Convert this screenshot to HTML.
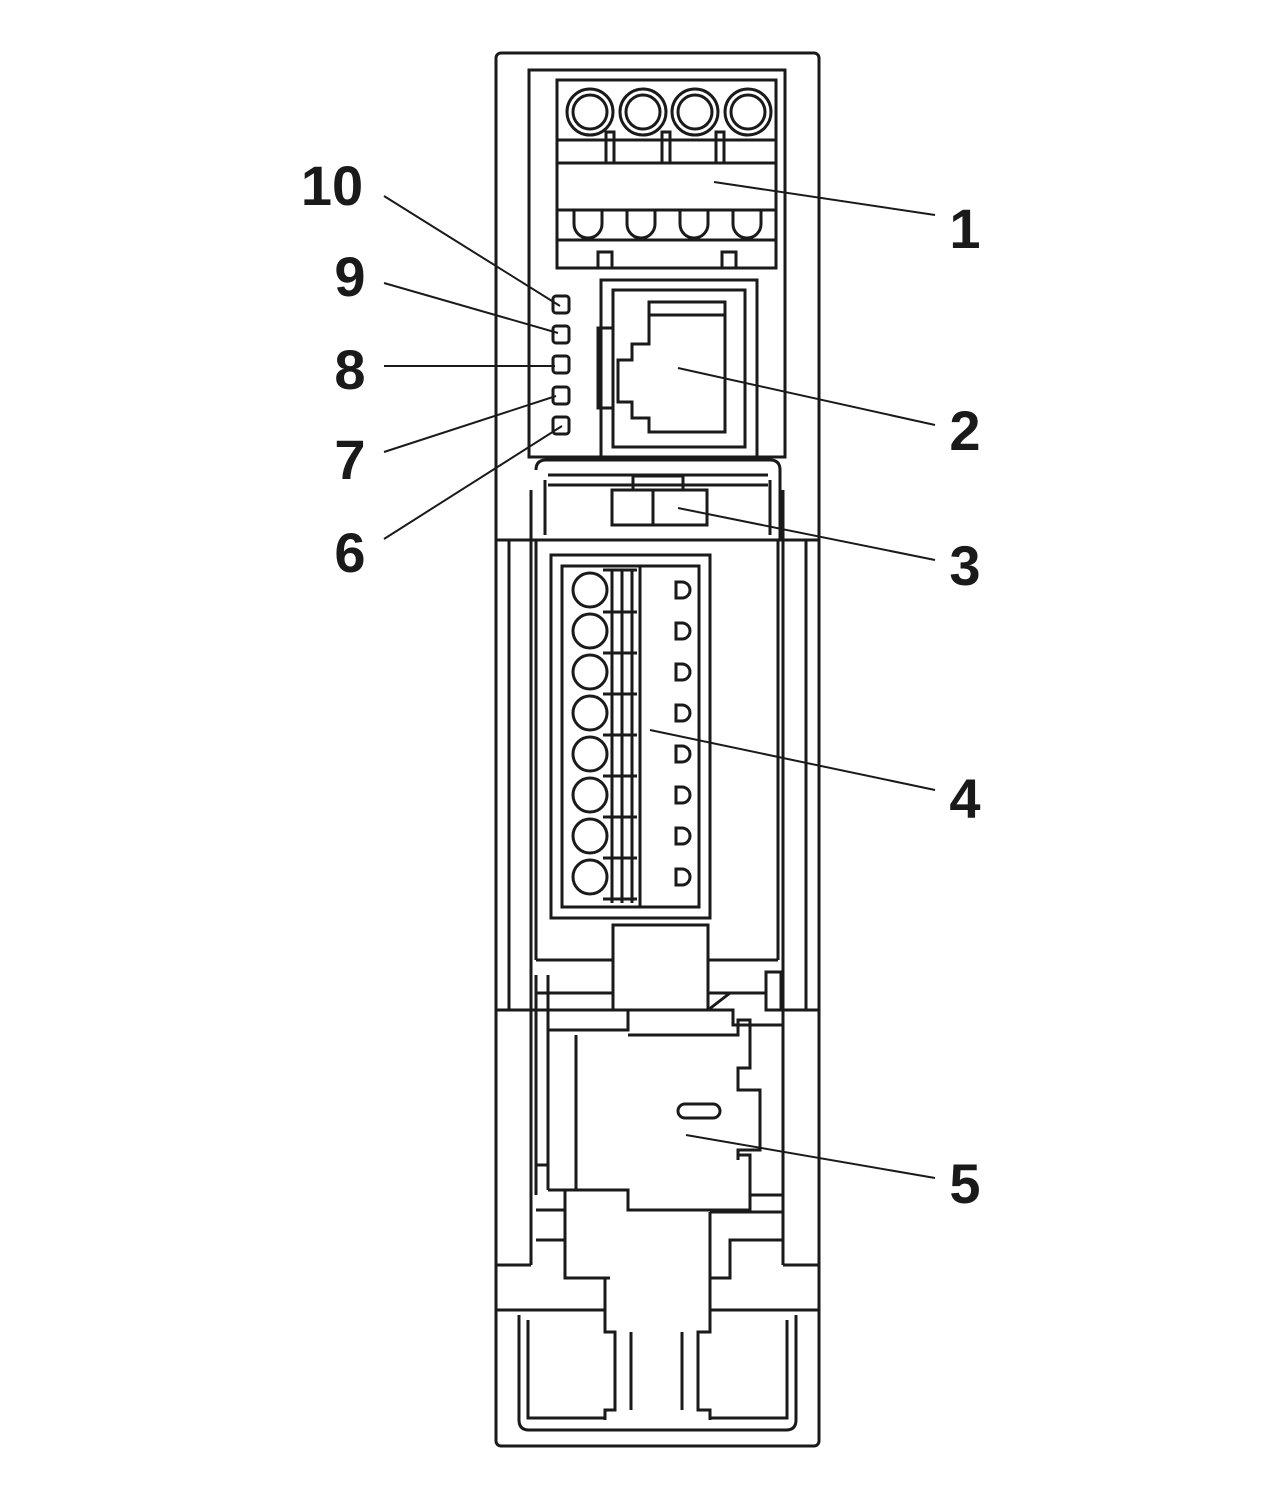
<!DOCTYPE html>
<html><head><meta charset="utf-8"><style>
html,body{margin:0;padding:0;background:#fff;width:1280px;height:1500px;overflow:hidden}
text{font-family:"Liberation Sans",sans-serif;font-weight:bold;font-size:56px;fill:#1a1a1a}
</style></head><body>
<svg width="1280" height="1500" viewBox="0 0 1280 1500" xmlns="http://www.w3.org/2000/svg">
<g fill="none" stroke="#1a1a1a" stroke-width="3">
<!-- outer housing -->
<rect x="496" y="53" width="323" height="1393" rx="5"/>
<!-- top module -->
<rect x="529" y="70" width="256" height="387"/>
<!-- terminal block 1 -->
<rect x="557" y="80" width="219" height="188"/>
<g>
<circle cx="590" cy="112" r="23"/><circle cx="590" cy="112" r="17"/>
<circle cx="643" cy="112" r="23"/><circle cx="643" cy="112" r="17"/>
<circle cx="695" cy="112" r="23"/><circle cx="695" cy="112" r="17"/>
<circle cx="748" cy="112" r="23"/><circle cx="748" cy="112" r="17"/>
</g>
<line x1="557" y1="140" x2="776" y2="140"/>
<line x1="557" y1="163" x2="776" y2="163"/>
<rect x="606" y="132" width="8" height="31"/><rect x="662" y="132" width="8" height="31"/><rect x="716" y="132" width="8" height="31"/>
<line x1="557" y1="210" x2="776" y2="210"/>
<line x1="557" y1="240" x2="776" y2="240"/>
<path d="M574 210 v14 a14 14 0 0 0 28 0 v-14 M627 210 v14 a14 14 0 0 0 28 0 v-14 M680 210 v14 a14 14 0 0 0 28 0 v-14 M733 210 v14 a14 14 0 0 0 28 0 v-14"/>
<rect x="598" y="252" width="14" height="16"/><rect x="722" y="252" width="14" height="16"/>
<!-- RJ45 -->
<rect x="601" y="280" width="156" height="177"/>
<rect x="613" y="290" width="132" height="157"/>
<path d="M649 302 H725 V432 H649 V418 H632 V402 H618 V360 H632 V344 H649 Z"/>
<path d="M649 315 H725"/>
<path d="M613 328 H598 V408 H613"/>
<!-- LEDs -->
<rect x="553" y="296" width="16" height="17" rx="3"/>
<rect x="553" y="326" width="16" height="17" rx="3"/>
<rect x="553" y="356" width="16" height="17" rx="3"/>
<rect x="553" y="387" width="16" height="17" rx="3"/>
<rect x="553" y="417" width="16" height="17" rx="3"/>
<!-- latch region 3 -->
<path d="M536 470 Q536 460 546 460 H770 Q780 460 780 470 V540"/>
<path d="M548 475 H768 M548 485 H768"/>
<path d="M531 490 V540 M545 480 V535 M770 480 V535 M783 490 V540"/>
<rect x="612" y="490" width="95" height="35"/>
<rect x="633" y="476" width="50" height="14"/>
<line x1="653" y1="490" x2="653" y2="525"/>
<!-- middle section rails -->
<line x1="496" y1="540" x2="819" y2="540"/>
<rect x="509" y="540" width="22" height="470"/>
<rect x="783" y="540" width="23" height="470"/>
<line x1="536" y1="540" x2="536" y2="960"/>
<line x1="778" y1="540" x2="778" y2="960"/>
<!-- connector 4 -->
<rect x="551" y="555" width="159" height="363"/>
<rect x="562" y="566" width="137" height="341"/>
<g>
<circle cx="590" cy="590" r="17"/><circle cx="590" cy="631" r="17"/><circle cx="590" cy="672" r="17"/><circle cx="590" cy="713" r="17"/>
<circle cx="590" cy="754" r="17"/><circle cx="590" cy="795" r="17"/><circle cx="590" cy="836" r="17"/><circle cx="590" cy="877" r="17"/>
</g>
<line x1="612" y1="570" x2="612" y2="903"/><line x1="622" y1="570" x2="622" y2="903"/><line x1="632" y1="570" x2="632" y2="903"/>
<line x1="640" y1="566" x2="640" y2="907"/>
<path d="M603 570 h34 M603 612 h34 M603 653 h34 M603 694 h34 M603 735 h34 M603 776 h34 M603 817 h34 M603 858 h34 M603 899 h34"/>
<path d="M676 582 h6 a8 8 0 0 1 0 16 h-6 Z M676 623 h6 a8 8 0 0 1 0 16 h-6 Z M676 664 h6 a8 8 0 0 1 0 16 h-6 Z M676 705 h6 a8 8 0 0 1 0 16 h-6 Z M676 746 h6 a8 8 0 0 1 0 16 h-6 Z M676 787 h6 a8 8 0 0 1 0 16 h-6 Z M676 828 h6 a8 8 0 0 1 0 16 h-6 Z M676 869 h6 a8 8 0 0 1 0 16 h-6 Z"/>
<!-- lower region -->
<rect x="613" y="925" width="95" height="85"/>
<path d="M536 960 H613 M708 960 H778"/>
<path d="M536 975 V1195 M548 975 V1190"/>
<rect x="766" y="972" width="15" height="38"/>
<path d="M536 993 H613 M708 993 L730 993 M708 1010 L730 993 M730 993 H766"/>
<path d="M496 1010 H613 M708 1010 H733 V1025 H783 V1010 H819"/>
<path d="M548 1030 H628 V1010"/>
<path d="M576 1035 V1190 M628 1035 H738 V1020 H750 V1068 H738 V1073"/>
<path d="M738 1073 V1090 H760 V1150 H738 V1160"/>
<path d="M738 1160 V1155 H750 V1210 H628 V1190 H565"/>
<rect x="678" y="1104" width="42" height="14" rx="7"/>
<path d="M548 1190 H565 V1278 H610"/>
<path d="M536 1165 H548 M536 1210 H565 M536 1240 H565"/>
<path d="M750 1195 H783 M710 1212 H783 M710 1212 V1278 H730 V1240 H783"/>
<line x1="783" y1="1010" x2="783" y2="1265"/>
<line x1="531" y1="1010" x2="531" y2="1265"/>
<path d="M496 1265 H531 M783 1265 H819"/>
<path d="M496 1310 H605 V1278 M819 1310 H710 V1278"/>
<path d="M605 1310 V1332 H615 V1410 H605 V1420 M710 1310 V1332 H698 V1410 H710 V1420"/>
<path d="M631 1332 V1410 M682 1332 V1410"/>
<path d="M519 1315 V1420 Q519 1430 529 1430 H786 Q796 1430 796 1420 V1315"/>
<path d="M528 1320 V1418 H605 M710 1418 H787 V1320"/>
</g>
<!-- leader lines -->
<g stroke="#1a1a1a" stroke-width="2" fill="none">
<line x1="384" y1="196" x2="560" y2="306"/>
<line x1="384" y1="283" x2="558" y2="333"/>
<line x1="384" y1="366" x2="555" y2="366"/>
<line x1="384" y1="452" x2="556" y2="396"/>
<line x1="384" y1="539" x2="562" y2="426"/>
<line x1="935" y1="215" x2="714" y2="182"/>
<line x1="935" y1="425" x2="678" y2="368"/>
<line x1="935" y1="560" x2="678" y2="508"/>
<line x1="935" y1="790" x2="650" y2="730"/>
<line x1="935" y1="1178" x2="686" y2="1135"/>
</g>
<text x="332" y="205" text-anchor="middle">10</text>
<text x="350" y="296" text-anchor="middle">9</text>
<text x="350" y="389" text-anchor="middle">8</text>
<text x="350" y="479" text-anchor="middle">7</text>
<text x="350" y="572" text-anchor="middle">6</text>
<text x="965" y="248" text-anchor="middle">1</text>
<text x="965" y="450" text-anchor="middle">2</text>
<text x="965" y="585" text-anchor="middle">3</text>
<text x="965" y="818" text-anchor="middle">4</text>
<text x="965" y="1203" text-anchor="middle">5</text>
</svg>
</body></html>
